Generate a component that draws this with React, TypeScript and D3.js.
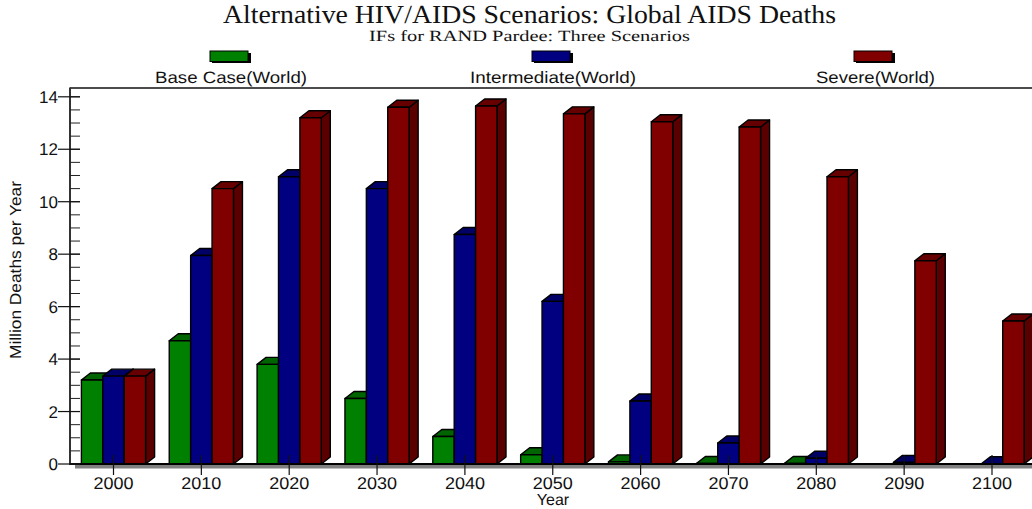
import React from "react";
import * as d3 from "d3";

const years = ["2000","2010","2020","2030","2040","2050","2060","2070","2080","2090","2100"];
const baseCase = [3.2,4.7,3.8,2.5,1.05,0.35,0.08,0.02,0.02,0,0];
const intermediate = [3.35,7.95,10.95,10.5,8.75,6.2,2.4,0.8,0.22,0.06,0.01];
const severe = [3.35,10.5,13.2,13.6,13.65,13.35,13.05,12.85,10.95,7.75,5.45];
const seriesNames = ["Base Case(World)","Intermediate(World)","Severe(World)"];
const yTicks = [0,2,4,6,8,10,12,14];
const yMinor = d3.range(0,14.01,0.5);

const colors = [
  {front:"#008000",top:"#006400",side:"#005a00"},
  {front:"#000080",top:"#000066",side:"#00005a"},
  {front:"#800000",top:"#660000",side:"#5a0000"},
];

const W=1032,H=509;
const y = d3.scaleLinear().domain([0,14]).range([464,96.8]);
const x = d3.scalePoint<string>().domain(years).range([113.5,992]);
const bandW = 21.4, dx=9, dy=7;
const sans = "'Liberation Sans', Arial, sans-serif";
const serif = "'Liberation Serif', 'Times New Roman', serif";
const ink="#111";

function Bar({x0,v,c}:{x0:number;v:number;c:typeof colors[0]}){
  if(v<=0) return null;
  const yt=y(v), yb=y(0), x1=x0+bandW;
  const sw=1.4;
  return <g stroke="#000" strokeWidth={sw} strokeLinejoin="round">
    <path d={`M${x1},${yb}L${x1+dx},${yb-dy}L${x1+dx},${yt-dy}L${x1},${yt}Z`} fill={c.side}/>
    <path d={`M${x0},${yt}L${x0+dx},${yt-dy}L${x1+dx},${yt-dy}L${x1},${yt}Z`} fill={c.top}/>
    <rect x={x0} y={yt} width={bandW} height={yb-yt} fill={c.front}/>
  </g>;
}

const legendX=[210,532,854];
const labelSpec=[{x:155,w:152},{x:470,w:166},{x:816,w:119}];

export default function App(){
  const all=[baseCase,intermediate,severe];
  return <svg width={W} height={H} viewBox={`0 0 ${W} ${H}`} style={{position:"absolute",left:0,top:0,background:"#fff",textRendering:"geometricPrecision"}}>
    <text x={223} y={23} fontFamily={serif} fontSize={26} fill={ink} textLength={613} lengthAdjust="spacingAndGlyphs">Alternative HIV/AIDS Scenarios: Global AIDS Deaths</text>
    <text x={369} y={40.5} fontFamily={serif} fontSize={15.5} fill={ink} textLength={321} lengthAdjust="spacingAndGlyphs">IFs for RAND Pardee: Three Scenarios</text>
    {seriesNames.map((n,i)=><g key={n}>
      <rect x={legendX[i]+2} y={53} width={39} height={10} fill="#000"/>
      <rect x={legendX[i]} y={51} width={38} height={10.5} fill={colors[i].front} stroke="#000" strokeWidth={1}/>
      <text x={labelSpec[i].x} y={82.5} fontFamily={sans} fontSize={16.5} fill={ink} textLength={labelSpec[i].w} lengthAdjust="spacingAndGlyphs">{n}</text>
    </g>)}
    <rect x={75} y={464} width={W-75} height={4.5} fill="#808080"/>
    {years.map((yr,i)=>{
      const cx=x(yr)!; const left=cx-bandW*1.5;
      return <g key={yr}>
        {all.map((arr,s)=><Bar key={s} x0={left+s*bandW} v={arr[i]} c={colors[s]}/>)}
      </g>;
    })}
    <line x1={70} x2={W} y1={88} y2={88} stroke={ink} strokeWidth={1.5}/>
    <line x1={70} x2={70} y1={87.5} y2={465} stroke="#333" strokeWidth={2}/>
    <line x1={70} x2={W} y1={464} y2={464} stroke="#000" strokeWidth={2}/>
    {yMinor.map(t=><line key={t} x1={70} x2={80} y1={y(t)} y2={y(t)} stroke="#222" strokeWidth={1}/>)}
    {yTicks.map(t=><g key={t}>
      <line x1={58} x2={80} y1={y(t)} y2={y(t)} stroke="#111" strokeWidth={1.2}/>
      <text x={58} y={y(t)+6} textAnchor="end" fontFamily={sans} fontSize={17} fill={ink}>{t}</text>
    </g>)}
    {years.map(yr=><g key={yr}>
      <line x1={x(yr)} x2={x(yr)} y1={455} y2={475} stroke="#111" strokeWidth={1.2}/>
      <text x={x(yr)!-20} y={488.5} fontFamily={sans} fontSize={17} fill={ink} textLength={40} lengthAdjust="spacingAndGlyphs">{yr}</text>
    </g>)}
    <text x={553} y={505} textAnchor="middle" fontFamily={sans} fontSize={16} fill={ink}>Year</text>
    <text transform="translate(21,270) rotate(-90)" textAnchor="middle" fontFamily={sans} fontSize={16} fill={ink} textLength={178} lengthAdjust="spacingAndGlyphs">Million Deaths per Year</text>
  </svg>;
}
